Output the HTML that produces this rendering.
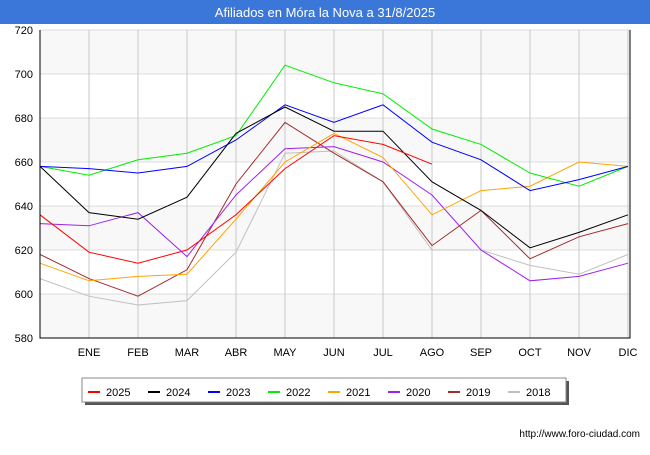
<!DOCTYPE html>
<html><head><meta charset="utf-8"><style>
body{margin:0;background:#fff;font-family:"Liberation Sans",sans-serif}
</style></head><body>
<svg id="c" width="650" height="450" xmlns="http://www.w3.org/2000/svg" font-family="Liberation Sans, sans-serif">
<rect x="0" y="0" width="650" height="450" fill="#fff"/>
<rect x="0" y="0" width="650" height="24" fill="#3a77d9"/>
<text x="325" y="17" text-anchor="middle" fill="#fff" font-size="13">Afiliados en Móra la Nova a 31/8/2025</text>
<g id="grid"></g><g id="series"></g><g id="axes"></g>
<g>
<rect x="85" y="381" width="484" height="24" fill="#555"/>
<rect x="82" y="378" width="484" height="24" fill="#fff" stroke="#888"/>
<g id="legend"></g></g>
<text x="640" y="437" text-anchor="end" font-size="10" fill="#000">http://www.foro-ciudad.com</text>
</svg>
<script>
const months=["","ENE","FEB","MAR","ABR","MAY","JUN","JUL","AGO","SEP","OCT","NOV","DIC"];
const yTicks=[580,600,620,640,660,680,700,720];
const seriesNames=["2025","2024","2023","2022","2021","2020","2019","2018"];
const colors=["#ff0000","#000000","#0000ff","#00ee00","#ffa500","#a020f0","#a52a2a","#c0c0c0"];
const s2025=[636,619,614,620,636,657,672,668,659];
const s2024=[658,637,634,644,673,685,674,674,651,638,621,628,636];
const s2023=[658,657,655,658,670,686,678,686,669,661,647,652,658];
const s2022=[658,654,661,664,672,704,696,691,675,668,655,649,658];
const s2021=[614,606,608,609,634,660,673,662,636,647,649,660,658];
const s2020=[632,631,637,617,645,666,667,660,645,620,606,608,614];
const s2019=[618,607,599,611,650,678,664,651,622,638,616,626,632];
const s2018=[607,599,595,597,619,664,665,651,620,620,613,609,618];
const allSeries=[s2025,s2024,s2023,s2022,s2021,s2020,s2019,s2018];
const NS="http://www.w3.org/2000/svg";
const x0=40,x1=628,yTop=30,yBot=338,vMin=580,vMax=720;
const X=i=>x0+i*(x1-x0)/12;
const Y=v=>yBot-(v-vMin)*(yBot-yTop)/(vMax-vMin);
function mk(t,a,p){const e=document.createElementNS(NS,t);for(const k in a)e.setAttribute(k,a[k]);p.appendChild(e);return e;}
const grid=document.getElementById('grid'),axes=document.getElementById('axes'),ser=document.getElementById('series'),leg=document.getElementById('legend');
for(let i=0;i<yTicks.length-1;i++){
 if(i%2==0){const r=mk('rect',{x:x0,y:Y(yTicks[i+1]),width:x1-x0+2,height:Y(yTicks[i])-Y(yTicks[i+1]),fill:'#f8f8f8'},grid);
 
 }
}
yTicks.forEach(v=>{
 const l=mk('line',{x1:x0,x2:x1+2,y1:Y(v),y2:Y(v),stroke:'#dcdcdc'},grid);
 
 
 const t=mk('text',{x:33,y:Y(v)+4,'text-anchor':'end','font-size':11,fill:'#000'},axes);t.textContent=v;
 
 
});
months.forEach((m,i)=>{
 if(i>0){const l=mk('line',{x1:X(i),x2:X(i),y1:yTop,y2:yBot,stroke:'#c8c8c8'},grid);
 
 }
 const t=mk('text',{x:X(i),y:356,'text-anchor':'middle','font-size':11,fill:'#000'},axes);t.textContent=m;
 
 
});
const ax=mk('polyline',{points:`${x0},${yTop} ${x0},${yBot} ${x1+2},${yBot} ${x1+2},${yTop}`,fill:'none',stroke:'#000'},axes);


for(let k=allSeries.length-1;k>=0;k--){
 const p=mk('polyline',{points:allSeries[k].map((v,i)=>X(i)+','+Y(v)).join(' '),fill:'none',stroke:colors[k],'stroke-width':1},ser);
 
 
}
seriesNames.forEach((n,k)=>{
 const lx=88+k*60;
 const l=mk('line',{x1:lx,x2:lx+12,y1:392,y2:392,stroke:colors[k],'stroke-width':2},leg);
 
 
 const t=mk('text',{x:lx+18,y:396,'font-size':11,fill:'#000'},leg);t.textContent=n;
 
 
});
</script>
</body></html>
